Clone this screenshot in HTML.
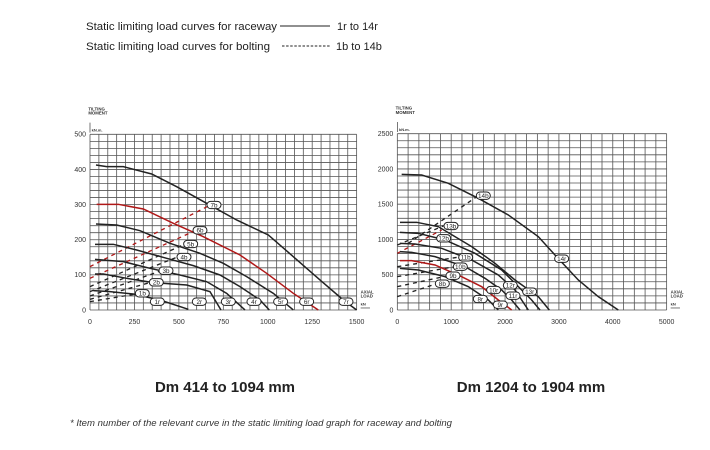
<!DOCTYPE html>
<html><head><meta charset="utf-8"><style>
body{margin:0;background:#fff;width:710px;height:450px;overflow:hidden;font-family:"Liberation Sans",sans-serif}
svg{position:absolute;left:0;top:0}
</style></head><body>
<svg id="s" width="710" height="450" xmlns="http://www.w3.org/2000/svg" font-family="Liberation Sans, sans-serif">
<text x="86" y="30" font-size="11" fill="#222" textLength="191" lengthAdjust="spacingAndGlyphs">Static limiting load curves for raceway</text>
<line x1="280" y1="26" x2="330" y2="26" stroke="#222" stroke-width="1"/>
<text x="337" y="30" font-size="11" fill="#222">1r to 14r</text>
<text x="86" y="50" font-size="11" fill="#222" textLength="184" lengthAdjust="spacingAndGlyphs">Static limiting load curves for bolting</text>
<line x1="282" y1="46" x2="330" y2="46" stroke="#222" stroke-width="1" stroke-dasharray="2.5,1.6"/>
<text x="336" y="50" font-size="11" fill="#222">1b to 14b</text>
<text x="225" y="392" font-size="15" font-weight="bold" text-anchor="middle" fill="#222">Dm 414 to 1094 mm</text>
<text x="531" y="392" font-size="15" font-weight="bold" text-anchor="middle" fill="#222">Dm 1204 to 1904 mm</text>
<text x="70" y="426" font-size="8.8" font-style="italic" fill="#333" textLength="382" lengthAdjust="spacingAndGlyphs">* Item number of the relevant curve in the static limiting load graph for raceway and bolting</text>
<g id="L" transform="translate(60,100) scale(0.3333)"></g>
<g id="R" transform="translate(365,100) scale(0.3333)"></g>
</svg>
<script>
const NS="http://www.w3.org/2000/svg";
function el(g,t,a,txt){const e=document.createElementNS(NS,t);for(const k in a)e.setAttribute(k,a[k]);if(txt!==undefined)e.textContent=txt;g.appendChild(e);return e;}
function chart(id,x0,x1,nc,y0,y1,nr,yl,xl,curves,dashes,labels){
 const g=document.getElementById(id);
 for(let i=0;i<=nc;i++){const x=x0+(x1-x0)*i/nc;el(g,'line',{x1:x,y1:y0,x2:x,y2:y1,stroke:'#555','stroke-width':2.4});}
 for(let i=0;i<=nr;i++){const y=y0+(y1-y0)*i/nr;el(g,'line',{x1:x0,y1:y,x2:x1,y2:y,stroke:'#555','stroke-width':2.4});}
 yl.forEach((t,i)=>{const y=y1-(y1-y0)*i/(yl.length-1);el(g,'text',{x:x0-12,y:y+7,'font-size':21,'text-anchor':'end',fill:'#333'},t);});
 xl.forEach((t,i)=>{const x=x0+(x1-x0)*i/(xl.length-1);el(g,'text',{x:x,y:y1+42,'font-size':21,'text-anchor':'middle',fill:'#333'},t);});
 el(g,'text',{x:x0-5,y:y0-72,'font-size':13,'font-weight':'bold',fill:'#333'},'TILTING');
 el(g,'text',{x:x0-5,y:y0-59,'font-size':13,'font-weight':'bold',fill:'#333'},'MOMENT');
 el(g,'line',{x1:x0,y1:y0-5,x2:x0,y2:y0-35,stroke:'#333','stroke-width':2});
 el(g,'text',{x:x0+5,y:y0-8,'font-size':12,'font-weight':'bold',fill:'#333'},'kN.m.');
 el(g,'text',{x:x1+12,y:y1-50,'font-size':13,'font-weight':'bold',fill:'#333'},'AXIAL');
 el(g,'text',{x:x1+12,y:y1-37,'font-size':13,'font-weight':'bold',fill:'#333'},'LOAD');
 el(g,'text',{x:x1+12,y:y1-14,'font-size':12,'font-weight':'bold',fill:'#333'},'kN');
 el(g,'line',{x1:x1+12,y1:y1-6,x2:x1+40,y2:y1-6,stroke:'#333','stroke-width':2});
 dashes.forEach(d=>el(g,'polyline',{points:d[0],fill:'none',stroke:d[1]||'#222','stroke-width':4,'stroke-dasharray':'12,12'}));
 curves.forEach(c=>el(g,'polyline',{points:c[0],fill:'none',stroke:c[1]||'#222','stroke-width':4.5}));
 labels.forEach(l=>{el(g,'rect',{x:l[1]-21,y:l[2]-11,width:42,height:22,rx:11,fill:'#fff',stroke:'#222','stroke-width':3});
  el(g,'text',{x:l[1],y:l[2]+7,'font-size':19,'text-anchor':'middle',fill:'#222'},l[0]);});
}
const red='#b01818';
chart('L',90,890,30,103,630,25,['0','100','200','300','400','500'],['0','250','500','750','1000','1250','1500'],
[['108,195 140,200 190,200 275,222 350,260 440,310 530,360 625,405 700,470 780,540 850,600 890,630'],
 ['110,313 175,313 250,327 340,370 430,410 540,465 620,520 700,580 775,630',red],
 ['108,372 170,375 240,392 330,430 420,460 490,490 560,530 640,580 700,630'],
 ['105,433 160,433 230,450 320,475 400,497 480,525 540,560 600,600 628,630'],
 ['105,478 190,485 270,505 360,525 440,545 500,580 555,630'],
 ['105,522 130,522 200,535 280,548 380,555 450,575 483,630'],
 ['100,572 150,575 220,582 300,600 385,628']],
[['90,500 455,313',red],['90,535 410,390',red],['90,560 380,430'],['90,575 355,470'],['90,588 310,510'],['90,598 280,545'],['90,605 240,580']],
[['7b',462,315],['6b',420,391],['5b',392,432],['4b',372,471],['3b',318,512],['2b',289,547],['1b',247,580],
 ['1r',292,605],['2r',418,605],['3r',505,605],['4r',582,605],['5r',662,605],['6r',740,605],['7r',858,605]]);
chart('R',97,905,25,101,630,25,['0','500','1000','1500','2000','2500'],['0','1000','2000','3000','4000','5000'],
[['110,223 170,225 250,250 340,295 430,345 520,410 570,465 640,540 700,590 760,630'],
 ['105,367 155,367 220,380 320,440 390,490 450,540 520,590 553,630'],
 ['105,397 160,400 240,420 330,460 410,510 460,560 500,600 525,630'],
 ['105,430 150,432 230,445 320,480 400,525 450,570 490,630'],
 ['105,455 140,457 210,470 300,500 360,535 410,570 440,600 465,630'],
 ['105,482 140,482 210,495 290,530 350,560 400,600 440,630',red],
 ['105,505 160,510 240,530 310,560 370,600 400,630']],
[['130,430 340,287'],['97,435 235,378'],['97,460 230,390',red],['97,500 290,470'],['97,530 270,500'],['97,560 250,527'],['97,590 215,551']],
[['14b',355,287],['13b',258,378],['12b',236,415],['11b',302,472],['10b',286,500],['9b',264,527],['8b',232,551],['14r',590,476],
 ['12r',436,556],['10r',386,570],['13r',494,575],['11r',444,587],['8r',346,597],['9r',406,614]]);
</script>
</body></html>
